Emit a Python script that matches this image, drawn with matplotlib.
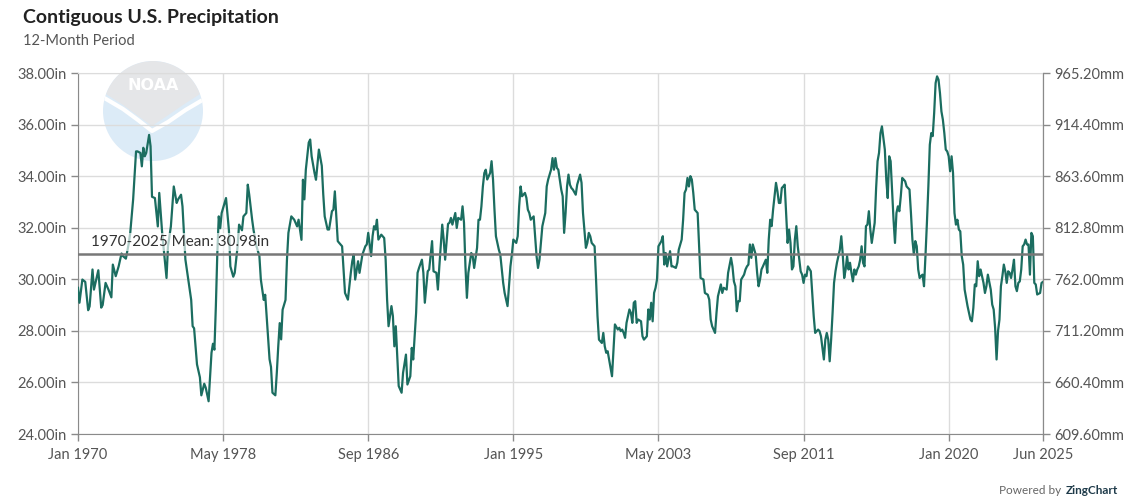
import numpy as np
import matplotlib.pyplot as plt
import pandas as pd
from matplotlib.patches import Circle, Polygon

plt.rcParams['font.family'] = ['Lato', 'DejaVu Sans']

# 12-month precipitation, months counted from Jan 1970
start = pd.Timestamp('1970-01-01')
month_index = [
    0, 1, 3, 5, 7, 8, 10, 11, 14, 16, 17, 19, 21, 23, 24, 26, 28, 30, 31, 33,
    35, 36, 38, 40, 41, 43, 44, 45, 46, 47, 49, 50, 51, 53, 55, 56, 57, 58, 61, 62,
    64, 66, 68, 69, 71, 72, 74, 76, 78, 79, 80, 82, 84, 85, 87, 88, 90, 92, 93, 94,
    95, 96, 97, 98, 99, 101, 102, 104, 105, 107, 108, 110, 111, 113, 114, 116, 117, 118, 120, 121,
    123, 125, 126, 128, 129, 130, 132, 133, 134, 136, 137, 138, 139, 140, 141, 143, 144, 145, 147, 149,
    151, 152, 154, 155, 156, 157, 159, 160, 161, 163, 164, 166, 168, 169, 170, 172, 173, 175, 176, 177,
    179, 180, 182, 183, 184, 186, 188, 189, 190, 191, 193, 194, 196, 198, 199, 200, 202, 203, 204, 205,
    206, 207, 209, 211, 212, 213, 214, 216, 217, 218, 219, 220, 221, 223, 224, 226, 227, 229, 230, 231,
    233, 234, 235, 237, 238, 239, 241, 242, 244, 245, 247, 248, 249, 251, 252, 253, 255, 256, 257, 258,
    260, 261, 262, 264, 265, 266, 267, 268, 269, 271, 272, 273, 275, 276, 277, 278, 279, 280, 281, 282,
    284, 285, 286, 287, 288, 290, 291, 293, 294, 296, 297, 298, 299, 300, 302, 303, 304, 305, 306, 308,
    309, 310, 311, 312, 314, 315, 316, 317, 318, 319, 320, 322, 323, 324, 326, 327, 328, 329, 330, 331,
    333, 334, 335, 336, 337, 338, 339, 340, 341, 343, 344, 346, 347, 348, 350, 351, 352, 353, 354, 356,
    357, 358, 359, 361, 362, 363, 364, 365, 366, 368, 369, 370, 372, 373, 374, 375, 376, 377, 378, 380,
    381, 382, 383, 384, 385, 386, 388, 389, 390, 392, 393, 394, 395, 396, 397, 398, 399, 400, 402, 403,
    404, 405, 406, 408, 409, 410, 412, 413, 414, 416, 417, 418, 419, 420, 421, 422, 423, 424, 425, 427,
    428, 429, 431, 432, 434, 435, 436, 437, 439, 440, 441, 443, 444, 445, 447, 448, 450, 451, 452, 453,
    454, 455, 456, 457, 459, 460, 461, 462, 463, 464, 465, 467, 468, 469, 470, 471, 472, 474, 475, 476,
    477, 478, 479, 481, 482, 483, 484, 485, 486, 487, 488, 489, 490, 491, 492, 493, 494, 495, 496, 498,
    499, 500, 501, 502, 503, 505, 506, 507, 508, 510, 511, 512, 514, 515, 516, 517, 518, 519, 520, 521,
    522, 523, 525, 526, 527, 528, 529, 530, 531, 532, 533, 534, 535, 536, 537, 538, 539, 540, 541, 542,
    543, 544, 545, 546, 547, 549, 550, 551, 552, 553, 554, 556, 557, 558, 559, 560, 561, 562, 563, 564,
    565, 566, 567, 568, 569, 570, 571, 573, 574, 575, 576, 577, 578, 579, 580, 581, 582, 583, 584, 585,
    586, 587, 588, 589, 590, 591, 592, 593, 594, 595, 596, 597, 598, 599, 600, 601, 602, 603, 604, 605,
    606, 607, 608, 609, 610, 611, 613, 615, 616, 617, 618, 619, 620, 621, 622, 624, 625, 626, 627, 629,
    630, 631, 632, 633, 634, 635, 636, 637, 638, 639, 640, 641, 642, 643, 644, 645, 646, 647, 648, 649,
    650, 651, 652, 653, 654, 655, 656, 657, 658, 659, 660, 661, 663, 664, 665,
]
precip_in = [
    29.67, 29.09, 29.99, 29.90, 28.80, 28.95, 30.38, 29.60, 30.35, 28.90, 29.00, 29.86, 29.60, 29.30, 30.57, 30.12, 30.50, 31.00, 30.90, 30.80,
    31.40, 31.80, 33.10, 34.96, 34.96, 34.90, 34.38, 35.10, 34.77, 34.90, 35.60, 35.16, 33.20, 33.15, 32.05, 33.35, 32.57, 31.80, 30.05, 31.28,
    32.05, 33.60, 32.96, 33.10, 33.28, 32.83, 30.77, 29.99, 29.20, 28.18, 28.10, 26.70, 26.20, 25.50, 25.95, 25.80, 25.27, 27.15, 27.50, 27.27,
    28.95, 31.00, 32.44, 31.98, 32.57, 32.96, 33.15, 31.90, 30.50, 30.10, 30.25, 31.28, 32.12, 31.90, 32.44, 32.57, 33.67, 33.28, 32.31, 31.90,
    31.28, 30.90, 29.99, 29.20, 29.40, 28.57, 26.90, 26.60, 25.60, 25.50, 26.37, 27.40, 28.30, 27.67, 28.82, 29.20, 30.77, 31.80, 32.44, 32.31,
    32.05, 32.31, 31.53, 33.86, 33.10, 34.25, 35.30, 35.42, 34.77, 34.12, 33.86, 35.03, 34.40, 33.30, 32.44, 31.93, 31.93, 32.64, 32.70, 33.41,
    31.48, 31.41, 31.28, 30.38, 29.47, 29.21, 30.25, 30.70, 30.96, 29.99, 30.70, 30.25, 30.96, 31.28, 31.35, 31.80, 30.90, 31.67, 32.06, 31.93,
    32.31, 31.54, 31.73, 31.60, 30.76, 29.21, 28.18, 28.96, 28.57, 27.40, 28.18, 27.02, 25.86, 25.60, 26.37, 27.08, 25.92, 26.24, 27.34, 26.89,
    28.70, 30.25, 30.44, 30.76, 30.25, 29.09, 30.31, 30.38, 31.48, 30.31, 30.25, 29.60, 30.50, 32.12, 31.54, 30.76, 32.15, 32.19, 32.38, 32.12,
    32.57, 31.99, 32.38, 32.31, 32.83, 32.19, 30.50, 29.28, 30.25, 31.02, 30.90, 30.44, 31.22, 32.31, 32.31, 32.83, 33.60, 34.12, 34.25, 33.87,
    34.12, 34.58, 33.87, 32.70, 31.67, 31.15, 30.96, 29.86, 29.47, 28.96, 29.73, 30.50, 30.96, 31.54, 31.41, 31.67, 32.83, 33.60, 33.22, 33.35,
    33.16, 32.70, 32.57, 32.31, 32.44, 31.67, 30.90, 30.44, 30.76, 31.41, 32.06, 32.57, 33.60, 33.87, 34.25, 34.70, 34.25, 34.70, 34.32, 34.25,
    33.48, 33.22, 31.80, 32.57, 33.60, 34.06, 33.67, 33.54, 33.48, 33.28, 33.67, 34.06, 33.74, 32.57, 31.22, 31.41, 31.80, 31.67, 31.41, 31.28,
    29.99, 28.57, 27.66, 27.53, 27.92, 27.40, 27.15, 27.21, 26.89, 26.24, 27.27, 28.25, 28.05, 28.12, 27.99, 28.05, 27.92, 27.73, 28.31, 28.83,
    28.70, 28.31, 29.09, 29.15, 28.31, 28.44, 28.37, 27.79, 27.66, 27.79, 28.83, 28.44, 29.09, 28.37, 29.47, 29.67, 29.99, 31.28, 31.48, 31.67,
    30.57, 31.02, 30.50, 31.09, 30.50, 30.50, 30.44, 30.64, 31.15, 31.54, 32.31, 33.35, 33.48, 33.93, 33.60, 34.00, 33.87, 33.35, 32.70, 32.57,
    31.28, 30.05, 29.99, 29.47, 29.40, 29.21, 28.44, 28.18, 27.92, 28.70, 29.34, 29.80, 29.47, 29.67, 29.60, 30.25, 30.83, 30.50, 29.92, 29.73,
    28.76, 29.15, 29.15, 29.99, 30.18, 30.38, 30.50, 30.57, 31.35, 30.83, 31.35, 30.96, 30.25, 29.73, 29.99, 30.38, 30.50, 30.76, 30.25, 31.54,
    32.31, 32.06, 32.70, 33.74, 33.41, 32.96, 32.96, 33.54, 33.60, 33.67, 32.57, 31.41, 31.93, 31.41, 30.38, 30.50, 31.54, 32.06, 31.28, 30.31,
    30.18, 29.86, 30.18, 30.12, 30.50, 30.31, 29.47, 28.57, 27.92, 28.05, 27.99, 27.79, 26.89, 27.66, 27.92, 27.66, 26.82, 27.66, 28.70, 29.86,
    30.31, 30.64, 31.15, 31.67, 30.96, 30.05, 30.38, 30.90, 30.38, 30.64, 30.25, 29.92, 30.38, 30.18, 30.38, 30.50, 30.76, 31.28, 30.64, 30.50,
    32.06, 32.12, 32.64, 31.93, 31.41, 32.19, 33.54, 34.58, 34.90, 35.67, 35.93, 35.03, 33.87, 33.15, 34.77, 34.58, 33.48, 32.31, 31.41, 32.57,
    32.83, 32.64, 33.22, 33.93, 33.87, 33.80, 33.60, 33.48, 32.57, 31.54, 30.96, 31.48, 31.28, 30.38, 30.05, 30.12, 30.18, 29.73, 30.90, 32.19,
    33.60, 35.22, 35.67, 35.55, 36.45, 37.61, 37.87, 37.74, 37.22, 36.51, 36.19, 35.67, 35.03, 34.96, 34.77, 34.19, 34.77, 34.12, 32.57, 32.12,
    32.31, 31.93, 31.86, 30.90, 30.57, 29.60, 28.96, 28.44, 28.37, 28.89, 29.80, 29.73, 30.70, 30.12, 30.38, 29.86, 29.47, 29.73, 30.18, 29.60,
    29.02, 28.83, 28.12, 26.89, 27.99, 28.44, 29.73, 30.12, 30.57, 30.31, 29.86, 30.31, 30.25, 30.05, 30.38, 30.76, 29.73, 29.54, 29.86, 29.92,
    30.38, 31.28, 31.35, 31.54, 31.35, 31.35, 30.18, 31.80, 31.67, 29.86, 29.80, 29.41, 29.47, 29.86, 29.90,
]
mean_in = 30.98
mean_label = '1970-2025 Mean: 30.98in'
x_tick_months = [0, 100, 200, 300, 400, 500, 600, 665]
x_tick_labels = [(start + pd.DateOffset(months=m)).strftime('%b %Y') for m in x_tick_months]
y_ticks_in = np.arange(24, 38.01, 2)
IN_TO_MM = 25.4

W, H = 1144, 503
fig = plt.figure(figsize=(W / 100, H / 100), dpi=100)


def box(x0, y0, x1, y1):
    # pixel box (top-left origin) -> figure fraction rect
    return [x0 / W, 1 - y1 / H, (x1 - x0) / W, (y1 - y0) / H]


# faint NOAA logo watermark behind the plot
logo = fig.add_axes(box(103, 61, 203, 161), zorder=0)
logo.set_xlim(-1, 1)
logo.set_ylim(-1, 1)
logo.axis('off')
disc = Circle((0, 0), 1, color='#dcebf7', lw=0)
logo.add_patch(disc)
theta = np.linspace(np.radians(20), np.radians(160), 40)
top = np.column_stack([np.cos(theta), np.sin(theta)])
vee = np.array([[-0.94, 0.34], [-0.6, 0.12], [-0.3, -0.1], [-0.02, -0.3],
                [0.25, -0.12], [0.6, 0.12], [0.94, 0.34]])
gray = Polygon(np.vstack([top[::-1], vee]), closed=True, color='#e5e6e8', lw=0)
gray.set_clip_path(disc)
logo.add_patch(gray)
logo.plot([-0.99, -0.6, -0.3, -0.02, 0.3, 0.65, 0.99],
          [0.27, 0.04, -0.18, -0.4, -0.22, 0.02, 0.22],
          color='white', lw=3, solid_capstyle='butt', clip_path=disc)
logo.text(0, 0.52, 'NOAA', color='white', fontsize=11.5, fontweight='bold',
          ha='center', va='center', family=['DejaVu Sans'])

ax = fig.add_axes(box(78, 73, 1043, 434), zorder=1)
ax.patch.set_alpha(0)
ax.plot(month_index, precip_in, color='#1b6d60', lw=1.6, zorder=3)
ax.axhline(mean_in, color='#787878', lw=1.8, zorder=4)
ax.text(9, mean_in + 0.47, mean_label, fontsize=11, color='#333333',
        ha='left', va='center', zorder=5,
        bbox=dict(facecolor='white', edgecolor='none', alpha=0.65, pad=1.5))

ax.set_xlim(0, 665)
ax.set_ylim(24, 38)
ax.set_xticks(x_tick_months)
ax.set_xticklabels(x_tick_labels)
ax.set_yticks(y_ticks_in)
ax.set_yticklabels([f'{v:.2f}in' for v in y_ticks_in])
ax.grid(True, color='#dcdcdc', lw=1, zorder=0)
ax.set_axisbelow(True)
for side in ['left', 'bottom', 'right']:
    ax.spines[side].set_color('#8a8a8a')
ax.spines['top'].set_color('#dcdcdc')
ax.tick_params(axis='both', colors='#8a8a8a', labelcolor='#555555',
               labelsize=10.5, length=5, width=1)
ax.tick_params(axis='x', pad=5)
ax.tick_params(axis='y', pad=3)

ax2 = ax.twinx()
ax2.set_ylim(24 * IN_TO_MM, 38 * IN_TO_MM)
mm_ticks = y_ticks_in * IN_TO_MM
ax2.set_yticks(mm_ticks)
ax2.set_yticklabels([f'{v:.2f}mm' for v in mm_ticks])
ax2.tick_params(axis='y', colors='#8a8a8a', labelcolor='#555555',
                labelsize=10.5, length=5, width=1, pad=3)
for side in ['left', 'bottom', 'top']:
    ax2.spines[side].set_visible(False)
ax2.spines['right'].set_color('#8a8a8a')

fig.text(23 / W, 1 - 18 / H, 'Contiguous U.S. Precipitation', fontsize=14,
         fontweight='bold', color='#222222', va='center', ha='left')
fig.text(23 / W, 1 - 41 / H, '12-Month Period', fontsize=10.5,
         color='#555555', va='center', ha='left')
fig.text(1061 / W, 1 - 491 / H, 'Powered by', fontsize=8.5,
         color='#666666', va='center', ha='right')
fig.text(1066 / W, 1 - 491 / H, 'ZingChart', fontsize=8.5, fontweight='bold',
         color='#1f3b4a', va='center', ha='left')

fig.savefig('out.png', dpi=100)
